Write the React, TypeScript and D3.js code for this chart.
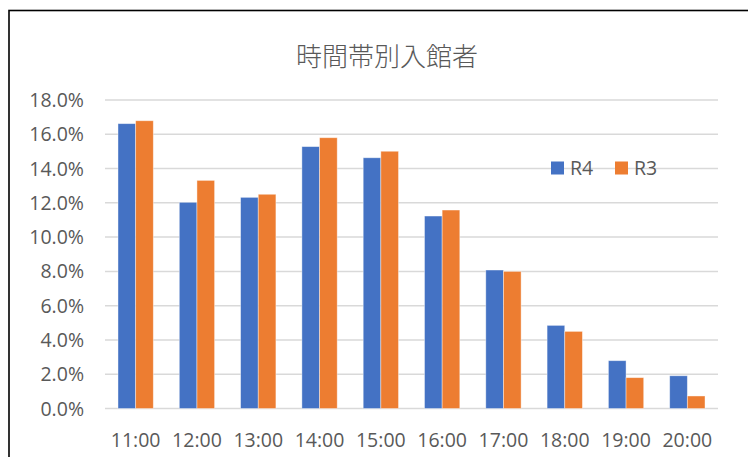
import React, { useEffect, useRef } from "react";
import * as d3 from "d3";

const hours = ["11:00", "12:00", "13:00", "14:00", "15:00", "16:00", "17:00", "18:00", "19:00", "20:00"];
const seriesNames = ["R4", "R3"];
const r4 = [16.62, 12.03, 12.32, 15.28, 14.63, 11.23, 8.08, 4.85, 2.79, 1.91];
const r3 = [16.79, 13.31, 12.5, 15.8, 15.01, 11.58, 8.0, 4.5, 1.8, 0.73];
const yTicks = [0, 2, 4, 6, 8, 10, 12, 14, 16, 18];
const colors = ["#4472C4", "#ED7D31"];

export default function App() {
  const ref = useRef<SVGSVGElement>(null);

  useEffect(() => {
    const svg = d3.select(ref.current);
    svg.selectAll("*").remove();

    const width = 748;
    const height = 457;
    const margin = { top: 100, right: 30, bottom: 48.5, left: 105 };
    const font = "'Open Sans', sans-serif";
    const textColor = "#595959";

    const x = d3
      .scaleBand()
      .domain(hours)
      .range([margin.left, width - margin.right])
      .paddingInner(0.424)
      .paddingOuter(0.212);

    const xs = d3.scaleBand().domain(seriesNames).range([0, x.bandwidth()]);

    const y = d3
      .scaleLinear()
      .domain([0, 18])
      .range([height - margin.bottom, margin.top]);

    svg.append("rect")
      .attr("width", width)
      .attr("height", height)
      .attr("fill", "#fff");

    // chart frame
    svg.append("rect")
      .attr("x", 9)
      .attr("y", 10.5)
      .attr("width", width + 20)
      .attr("height", height + 20)
      .attr("fill", "none")
      .attr("stroke", "#000")
      .attr("stroke-width", 1.6);

    svg.append("text")
      .attr("x", 387)
      .attr("y", 54)
      .attr("text-anchor", "middle")
      .attr("dominant-baseline", "central")
      .attr("font-family", "'Noto Sans CJK JP', sans-serif")
      .attr("font-size", 26)
      .attr("font-weight", 300)
      .attr("fill", textColor)
      .text("時間帯別入館者");

    // grid
    const yAxis = svg.append("g");
    yAxis
      .selectAll("line")
      .data(yTicks)
      .join("line")
      .attr("x1", margin.left)
      .attr("x2", width - margin.right)
      .attr("y1", (d) => y(d))
      .attr("y2", (d) => y(d))
      .attr("stroke", "#D9D9D9")
      .attr("stroke-width", 1.5);

    yAxis
      .selectAll("text")
      .data(yTicks)
      .join("text")
      .attr("x", 84)
      .attr("y", (d) => y(d) + 7)
      .attr("text-anchor", "end")
      .attr("font-family", font)
      .attr("font-size", 19.5)
      .attr("fill", textColor)
      .text((d) => d3.format(".1f")(d) + "%");

    const groups = svg
      .append("g")
      .selectAll("g")
      .data(hours)
      .join("g")
      .attr("transform", (d) => `translate(${x(d)},0)`);

    groups
      .selectAll("rect")
      .data((d, i) => [
        { key: "R4", v: r4[i] },
        { key: "R3", v: r3[i] },
      ])
      .join("rect")
      .attr("x", (d) => xs(d.key)!)
      .attr("width", xs.bandwidth())
      .attr("y", (d) => y(d.v))
      .attr("height", (d) => y(0) - y(d.v))
      .attr("fill", (d, i) => colors[i])
      .attr("stroke", "#fff")
      .attr("stroke-opacity", 0.5)
      .attr("stroke-width", 0.8);

    svg.append("g")
      .selectAll("text")
      .data(hours)
      .join("text")
      .attr("x", (d) => x(d)! + x.bandwidth() / 2)
      .attr("y", 446.5)
      .attr("text-anchor", "middle")
      .attr("font-family", font)
      .attr("font-size", 19.5)
      .attr("fill", textColor)
      .text((d) => d);

    const legend = svg
      .append("g")
      .selectAll("g")
      .data(seriesNames)
      .join("g")
      .attr("transform", (d, i) => `translate(${551 + i * 64},161.5)`);

    legend.append("rect")
      .attr("width", 13)
      .attr("height", 13)
      .attr("fill", (d, i) => colors[i]);

    legend.append("text")
      .attr("x", 19)
      .attr("y", 13.5)
      .attr("font-family", font)
      .attr("font-size", 19.5)
      .attr("fill", textColor)
      .text((d) => d);
  }, []);

  return (
    <svg
      ref={ref}
      width={748}
      height={457}
      style={{ position: "absolute", left: 0, top: 0, display: "block" }}
    />
  );
}
